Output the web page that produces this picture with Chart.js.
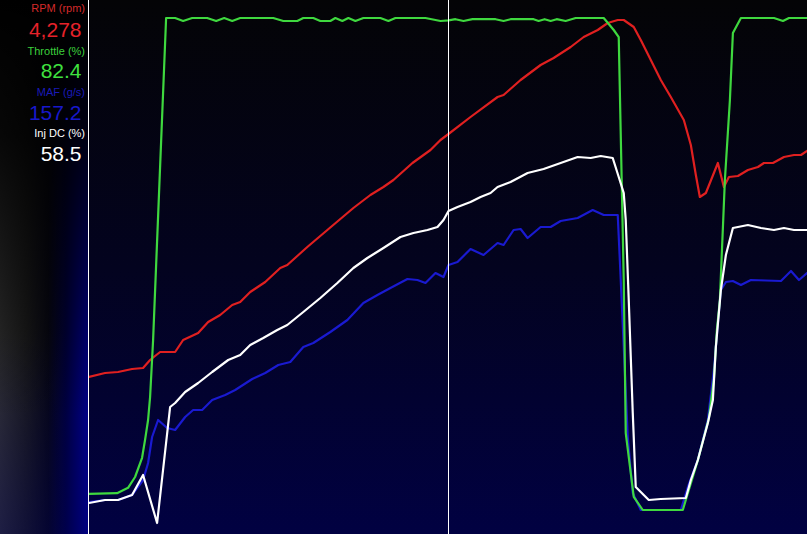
<!DOCTYPE html>
<html>
<head>
<meta charset="utf-8">
<script src="https://cdn.jsdelivr.net/npm/chart.js@4"></script>
<style>
  html, body { margin: 0; padding: 0; background: #000; }
  #wrap { position: relative; width: 808px; height: 534px; overflow: hidden; background: #000; }
  #panel {
    position: absolute; left: 0; top: 0; width: 88px; height: 534px;
    background:
      linear-gradient(to bottom, rgba(0,0,0,1) 0%, rgba(0,0,0,0.85) 25%, rgba(0,0,0,0.45) 50%, rgba(0,0,0,0) 78%),
      linear-gradient(to bottom, rgba(0,0,110,0) 62%, rgba(0,0,110,0.35) 100%),
      linear-gradient(to right, #2e2e2e 0%, #1a1a1a 30%, #070712 55%, #00003a 75%, #00008a 100%);
  }
  .lbl, .val { position: absolute; text-align: right; white-space: nowrap; line-height: 1; font-family: "Liberation Sans", Arial, sans-serif; }
  .lbl { font-size: 11px; }
  .val { font-size: 21px; }
  canvas { position: absolute; left: 0; top: 0; }
</style>
</head>
<body>
<div id="wrap">
  <div id="panel"></div>
  <div id="readout" style="position:absolute;left:0;top:0;"></div>
  <canvas id="c" width="808" height="534"></canvas>
</div>
<script>
// ---- Data (time in seconds) ----
const seriesNames = ["RPM (rpm)", "Throttle (%)", "MAF (g/s)", "Inj DC (%)"];
const readoutValues = ["4,278", "82.4", "157.2", "58.5"];
const cursorTime = 17.95;

const rpmTime = [0, 0.8, 1.45, 2.15, 2.7, 3.05, 3.55, 4.3, 4.7, 5.45, 5.95, 6.55, 7.15, 7.55, 8.05, 8.8, 9.55, 9.9, 10.9, 11.9, 13.2, 14.05, 14.7, 15.2, 16.15, 17.05, 17.55, 17.95, 19.05, 20.4, 20.7, 21.55, 22.55, 23.2, 24.05, 24.7, 25.4, 25.9, 26.4, 26.7, 27.2, 27.55, 28.05, 28.55, 29.05, 29.7, 30.05, 30.3, 30.5, 30.8, 31.4, 31.7, 31.95, 32.4, 32.9, 33.4, 33.7, 34.15, 34.7, 35.2, 35.55, 35.85];
const rpmValues = [1848, 1888, 1898, 1928, 1938, 2018, 2098, 2098, 2218, 2288, 2398, 2468, 2568, 2598, 2698, 2798, 2938, 2968, 3148, 3318, 3538, 3668, 3748, 3818, 3988, 4118, 4218, 4278, 4448, 4648, 4668, 4818, 4968, 5038, 5148, 5248, 5318, 5388, 5418, 5418, 5348, 5218, 5018, 4818, 4648, 4418, 4168, 3868, 3648, 3688, 3988, 3748, 3848, 3858, 3918, 3948, 3988, 3988, 4048, 4068, 4068, 4108];

const throttleTime = [0, 1.4, 1.95, 2.3, 2.65, 2.8, 2.95, 3.05, 3.2, 3.85, 4.3, 4.7, 5.15, 5.9, 6.35, 6.75, 7.15, 7.55, 9.2, 9.7, 10.4, 10.7, 11.2, 11.55, 12.05, 12.3, 12.65, 12.95, 13.3, 13.7, 14.55, 14.95, 15.3, 16.8, 17.55, 17.95, 18.3, 18.7, 19.15, 20.3, 20.7, 21.05, 22.2, 22.45, 22.75, 23.05, 23.35, 23.8, 24.3, 25.7, 26.2, 26.45, 26.7, 26.8, 27.2, 27.65, 29.65, 29.9, 30.4, 30.95, 31.2, 31.35, 31.5, 31.75, 32.0, 32.15, 32.55, 34.2, 34.65, 34.95, 35.85];
const throttleValues = [3.5, 3.6, 4.5, 6.3, 9.5, 12.5, 15.8, 19.6, 29.1, 82.8, 82.8, 82.3, 82.8, 82.8, 82.3, 82.8, 82.3, 82.8, 82.8, 82.3, 82.3, 82.8, 82.8, 82.3, 82.3, 82.8, 82.3, 82.8, 82.3, 82.8, 82.8, 82.3, 82.8, 82.8, 82.3, 82.4, 82.6, 82.3, 82.6, 82.6, 82.3, 82.6, 82.6, 82.3, 82.6, 82.3, 82.6, 82.3, 82.8, 82.8, 80.8, 79.6, 39.1, 13.6, 3.0, 0.8, 0.8, 3.6, 9.1, 16.1, 22.5, 30.8, 35.8, 55.8, 69.1, 80.3, 82.8, 82.8, 82.3, 82.8, 82.8];

const mafTime = [0, 0.8, 1.45, 2.15, 2.7, 2.95, 3.15, 3.45, 3.9, 4.3, 4.8, 5.2, 5.65, 6.15, 6.8, 7.3, 8.15, 8.8, 9.45, 10.05, 10.7, 11.2, 12.05, 12.9, 13.7, 14.4, 15.05, 15.9, 16.4, 16.8, 17.3, 17.7, 17.95, 18.4, 19.05, 19.7, 20.4, 20.7, 21.2, 21.55, 21.9, 22.55, 23.05, 23.55, 24.4, 25.15, 25.7, 26.4, 26.55, 26.7, 26.9, 27.15, 27.55, 29.55, 29.9, 30.4, 30.9, 31.2, 31.4, 31.55, 31.8, 32.15, 32.55, 33.05, 34.55, 35.05, 35.45, 35.85];
const mafValues = [15.0, 16.2, 16.2, 19.2, 28.2, 38.4, 54.0, 64.2, 59.4, 58.2, 66.0, 70.2, 70.2, 76.2, 79.2, 82.2, 88.8, 92.4, 97.2, 99.0, 108.0, 110.4, 117.0, 124.2, 134.4, 139.2, 143.4, 148.8, 148.2, 146.4, 152.4, 150.0, 157.2, 159.0, 166.8, 163.2, 170.4, 169.2, 178.2, 178.8, 173.4, 180.0, 180.0, 183.6, 185.4, 190.2, 187.2, 187.2, 148.2, 108.0, 54.0, 20.4, 10.2, 10.2, 24.0, 40.2, 64.2, 94.2, 122.4, 142.2, 147.0, 147.6, 145.2, 148.2, 147.6, 153.6, 148.2, 152.4];

const injTime = [0, 0.8, 1.45, 2.15, 2.7, 3.4, 4.05, 4.3, 4.8, 5.45, 6.15, 6.95, 7.55, 8.05, 8.7, 9.4, 9.9, 10.7, 11.55, 12.4, 13.2, 13.9, 14.7, 15.55, 16.2, 16.9, 17.4, 17.7, 17.95, 18.4, 19.05, 19.55, 20.05, 20.4, 21.05, 21.9, 22.7, 23.55, 24.4, 25.05, 25.55, 26.15, 26.45, 26.7, 26.8, 26.95, 27.15, 27.3, 27.95, 28.55, 29.8, 30.05, 30.4, 30.9, 31.15, 31.3, 31.55, 31.8, 32.15, 32.9, 33.55, 34.2, 34.7, 35.2, 35.85];
const injValues = [0.1, 0.7, 0.7, 1.7, 5.7, -3.9, 19.3, 20.1, 22.3, 24.1, 26.3, 28.7, 29.7, 31.7, 33.1, 34.7, 35.7, 38.3, 41.1, 44.1, 47.1, 49.1, 51.1, 53.3, 54.1, 54.7, 55.3, 56.7, 58.5, 59.3, 60.3, 61.3, 62.1, 63.3, 64.3, 66.1, 66.9, 68.1, 69.3, 69.1, 69.5, 69.1, 65.3, 62.1, 56.7, 40.7, 18.1, 3.3, 0.7, 0.9, 1.1, 4.7, 8.7, 16.1, 20.7, 31.3, 42.7, 49.7, 55.1, 55.7, 55.1, 54.7, 55.1, 54.7, 54.7];

// ---- Styling ----
const lineColors = ["#e02020", "#3fd83f", "#1a1ad0", "#ffffff"];
const labelColors = ["#d42a2a", "#3ccf3c", "#1a1ab8", "#ffffff"];
const valueColors = ["#e6222a", "#3fe03f", "#1818cc", "#ffffff"];
const labelTops = [3, 45.5, 87, 128];
const valueTops = [18.5, 59.5, 101.5, 142.5];

const readout = document.getElementById('readout');
seriesNames.forEach((n, i) => {
  const l = document.createElement('div');
  l.className = 'lbl'; l.textContent = n;
  l.style.top = labelTops[i] + 'px'; l.style.left = '0px'; l.style.width = '85px';
  l.style.color = labelColors[i];
  readout.appendChild(l);
  const v = document.createElement('div');
  v.className = 'val'; v.textContent = readoutValues[i];
  v.style.top = valueTops[i] + 'px'; v.style.left = '0px'; v.style.width = '81.5px';
  v.style.color = valueColors[i];
  readout.appendChild(v);
});

const zip = (t, v) => t.map((x, i) => ({ x: x, y: v[i] }));

const bgPlugin = {
  id: 'bg',
  beforeDraw(chart) {
    const { ctx, chartArea: a } = chart;
    const g = ctx.createLinearGradient(0, a.top, 0, a.bottom);
    g.addColorStop(0, '#040406');
    g.addColorStop(0.5, '#03031f');
    g.addColorStop(1, '#010142');
    ctx.save();
    ctx.fillStyle = g;
    ctx.fillRect(a.left, a.top, a.right - a.left, a.bottom - a.top);
    ctx.restore();
  },
  afterDatasetsDraw(chart) {
    const { ctx, chartArea: a } = chart;
    const cx = Math.round(chart.scales.x.getPixelForValue(cursorTime)) - 0.5;
    ctx.save();
    ctx.strokeStyle = '#ffffff';
    ctx.lineWidth = 1;
    ctx.beginPath();
    ctx.moveTo(a.left - 0.5, 0); ctx.lineTo(a.left - 0.5, a.bottom);
    ctx.moveTo(cx, 0); ctx.lineTo(cx, a.bottom);
    ctx.moveTo(a.right + 0.5, 0); ctx.lineTo(a.right + 0.5, a.bottom);
    ctx.stroke();
    ctx.restore();
  }
};

new Chart(document.getElementById('c'), {
  type: 'line',
  data: {
    datasets: [
      { label: seriesNames[3], data: zip(injTime, injValues), yAxisID: 'yInj', borderColor: lineColors[3], order: 0 },
      { label: seriesNames[1], data: zip(throttleTime, throttleValues), yAxisID: 'yThr', borderColor: lineColors[1], order: 1 },
      { label: seriesNames[2], data: zip(mafTime, mafValues), yAxisID: 'yMaf', borderColor: lineColors[2], order: 2 },
      { label: seriesNames[0], data: zip(rpmTime, rpmValues), yAxisID: 'yRpm', borderColor: lineColors[0], order: 3 }
    ]
  },
  options: {
    responsive: false,
    animation: false,
    events: [],
    layout: { padding: { left: 89, right: 1, top: 0, bottom: 0 } },
    elements: {
      line: { borderWidth: 2.2, tension: 0, fill: false, borderJoinStyle: 'round', borderCapStyle: 'round' },
      point: { radius: 0, hoverRadius: 0 }
    },
    plugins: { legend: { display: false }, tooltip: { enabled: false }, title: { display: false } },
    scales: {
      x: { type: 'linear', min: 0, max: 35.85, display: false },
      yRpm: { type: 'linear', min: 278, max: 5618, display: false },
      yThr: { type: 'linear', min: -3.2, max: 85.8, display: false },
      yMaf: { type: 'linear', min: -4.2, max: 316.2, display: false },
      yInj: { type: 'linear', min: -6.1, max: 100.7, display: false }
    }
  },
  plugins: [bgPlugin]
});
</script>
</body>
</html>
